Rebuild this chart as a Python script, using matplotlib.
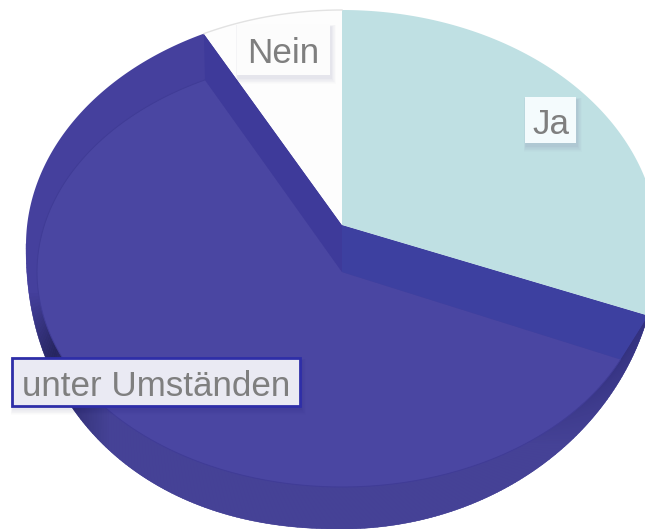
import numpy as np
import matplotlib
matplotlib.use("Agg")
import matplotlib.pyplot as plt
from matplotlib.patches import Rectangle
from matplotlib.colors import to_rgb

# Data
categories = ["Ja", "unter Umständen", "Nein"]
values = [29, 63.8, 7.2]
face_colors = ["#BFE0E3", "#4A46A2", "#FDFDFD"]

plt.rcParams["font.family"] = ["Liberation Sans", "DejaVu Sans"]
fig = plt.figure(figsize=(6.45, 5.29), dpi=100)
ax = fig.add_axes([0, 0, 1, 1])
ax.set_xlim(0, 645)
ax.set_ylim(529, 0)
ax.axis("off")

CX, TOP_Y, BOT_Y, MID_Y = 342, 225, 272, 245


def outer(theta):
    t = np.radians(theta)
    s, c = np.sin(t), np.cos(t)
    p = np.where(s < 0, 2 / 2.2, 1.0)
    xs = np.where(c >= 0, CX + 316 * s, CX + 316 * np.sign(s) * np.abs(s) ** p)
    ys = np.where(c >= 0, MID_Y - 235 * c, MID_Y + 284 * np.abs(c) ** p)
    return xs, ys


def inner(theta):
    t = np.radians(theta)
    return CX + 305 * np.sin(t), BOT_Y - 215 * np.cos(t)


def inner_angle(theta):
    wrapped = (theta + 180) % 360 - 180
    return (wrapped * (1.092 if wrapped > 0 else 1.03)) % 360


edges = np.cumsum([0] + values) / sum(values) * 360
ja0, ja1 = edges[0], edges[1]
un0, un1 = edges[1], edges[2]
ne0, ne1 = edges[2], edges[3]

# big slice: outer silhouette
th = np.linspace(un0, un1, 300)
ox, oy = outer(th)
ax.fill(np.r_[CX, ox], np.r_[TOP_Y, oy], color="#45409D", lw=0, zorder=1)

# shaded rim band on the lower side
ith = np.linspace(inner_angle(un0), inner_angle(un1), 300)
ix, iy = inner(ith)
base = np.array(to_rgb("#454296"))
top_band = np.array(to_rgb("#45409D"))
dark_l = np.array(to_rgb("#26255F"))
dark_r = np.array(to_rgb("#33317F"))
for i in range(299):
    t = th[i]
    shade = base
    if t < 135:
        shade = base + (dark_r - base) * (135 - t) / 30
    elif 225 < t <= 246:
        shade = base + (dark_l - base) * (t - 225) / 21
    elif 246 < t < 262:
        shade = dark_l + (top_band - dark_l) * (t - 246) / 16
    elif t >= 262:
        shade = top_band
    if t < 270:
        ax.fill([ox[i], ox[i + 1], ix[i + 1], ix[i]],
                [oy[i], oy[i + 1], iy[i + 1], iy[i]],
                color=shade, lw=0.3, zorder=1.5)

# big slice: face
ax.fill(np.r_[CX, ix], np.r_[BOT_Y, iy], facecolor=face_colors[1], edgecolor="none", zorder=2)
ax.plot(ix, iy, color="#403C96", lw=0.7, zorder=2.2)

# walls
jx, jy = outer(np.array([un0]))
kx, ky = inner(np.array([inner_angle(un0)]))
ax.fill([CX, jx[0], kx[0], CX], [TOP_Y, jy[0], ky[0], BOT_Y], color="#3D40A0", lw=0, zorder=3)
jx, jy = outer(np.array([un1]))
kx, ky = inner(np.array([inner_angle(un1)]))
ax.fill([CX, jx[0], kx[0], CX], [TOP_Y, jy[0], ky[0], BOT_Y], color="#3E3A9A", lw=0, zorder=3)

# Ja slice
th = np.linspace(ja0, ja1, 200)
ox, oy = outer(th)
ax.fill(np.r_[CX, ox], np.r_[TOP_Y, oy], facecolor=face_colors[0], edgecolor="none", zorder=4)

# Nein slice
th = np.linspace(ne0, ne1, 100)
ox, oy = outer(th)
ax.fill(np.r_[CX, ox], np.r_[TOP_Y, oy], facecolor=face_colors[2], edgecolor="none", zorder=4)
ax.plot(ox, oy, color="#E2E2E2", lw=1.0, zorder=4.2)

# Labels
boxes = {
    "Nein": ((237, 24, 93, 51), "#FCFCFC", None),
    "Ja": ((525, 97, 51, 46), "#F4FBFD", None),
    "unter Umständen": ((12, 358, 288, 48), "#EAEAF3", "#2E2EA8"),
}
for name in categories:
    (x, y, w, h), fc, ec = boxes[name]
    for k in range(1, 9):
        ax.add_patch(Rectangle((x + 1 - k * 0.3, y + 3 - k * 0.3), w + k * 0.9, h + k * 1.0,
                               facecolor="#1A1A50", alpha=0.012, edgecolor="none", zorder=5))
    ax.add_patch(Rectangle((x, y), w, h, facecolor=fc, edgecolor=ec if ec else "none",
                           lw=2 if ec else 0, zorder=6))
    ax.text(x + w / 2, y + h / 2 + 0.5, name, color="#7F7F7F", fontsize=25.2, ha="center",
            va="center_baseline", zorder=7)

fig.savefig("out.png", dpi=100)
